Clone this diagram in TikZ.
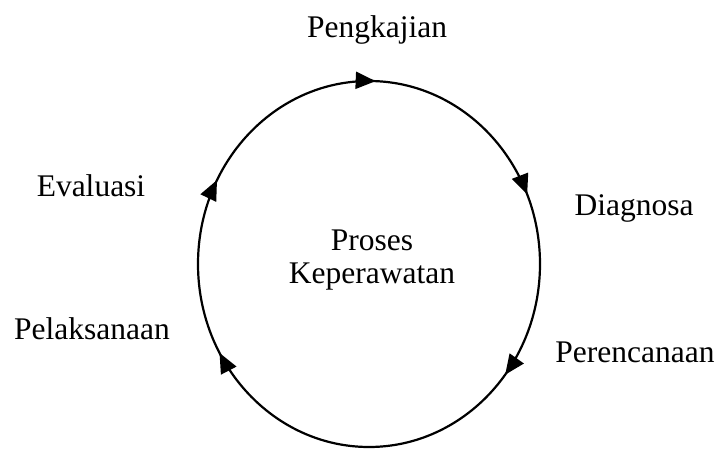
\documentclass[tikz,border=0pt]{standalone}
\usepackage{fontspec}
\setmainfont{Liberation Serif}
\usetikzlibrary{positioning,arrows.meta,calc,decorations.markings}
\tikzset{
  lab/.style={font=\fontsize{31.5pt}{33pt}\selectfont, text=black, inner sep=0pt, anchor=base},
  mid/.style={font=\fontsize{31.5pt}{33pt}\selectfont, text=black, align=center, inner sep=0pt},
  cyc/.style={line width=2.2pt, postaction={decorate}, decoration={markings,
    mark=at position 0.006 with {\arrow{Triangle[length=20pt,width=17pt]}},
    mark=at position 0.186 with {\arrow{Triangle[length=20pt,width=17pt]}},
    mark=at position 0.356 with {\arrow{Triangle[length=20pt,width=17pt]}},
    mark=at position 0.667 with {\arrow{Triangle[length=20pt,width=17pt]}},
    mark=at position 0.828 with {\arrow{Triangle[length=20pt,width=17pt]}}}},
}

\begin{document}
\begin{tikzpicture}[x=1pt,y=1pt]
  \useasboundingbox (0,0) rectangle (717,448);
  \coordinate (c) at (369,184);
  % siklus searah jarum jam, mulai dari atas
  \draw[cyc] ($(c)+(0,183)$) arc[start angle=90, end angle=-270, x radius=171, y radius=183];
  \node[mid] (proses) at (372,188) {Proses\\Keperawatan};
  \node[lab] (kaji) at (377,410) {Pengkajian};
  \node[lab] (diag) at (634,233) {Diagnosa};
  \node[lab] (renc) at (635,86) {Perencanaan};
  \node[lab] (laks) at (92,109) {Pelaksanaan};
  \node[lab] (eval) at (91,252) {Evaluasi};
\end{tikzpicture}
\end{document}
